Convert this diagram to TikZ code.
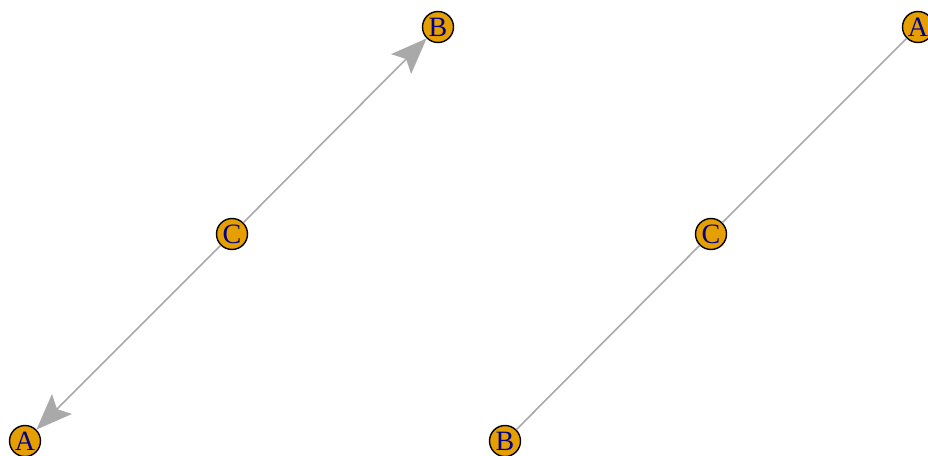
\documentclass[tikz,border=0pt]{standalone}
\usepackage{fontspec}
\setmainfont{Liberation Serif}
\usetikzlibrary{arrows.meta}
\definecolor{vfill}{HTML}{E69F00}
\definecolor{vtext}{HTML}{00008B}
\definecolor{edgec}{HTML}{A9A9A9}
\tikzset{
  vert/.style={circle, draw=black, line width=1.4pt, fill=vfill, text=vtext,
    minimum size=31pt, inner sep=0pt, font=\fontsize{28}{28}\selectfont},
  edge/.style={draw=edgec, line width=1.6pt},
  dedge/.style={edge, -{Stealth[length=36pt, width=28pt, inset=7pt]}}
}
\begin{document}
\begin{tikzpicture}[x=1pt,y=-1pt]
\useasboundingbox (0,0) rectangle (928,455);
\begin{scope}
\clip (0,0) rectangle (928,455);
% left graph
\node[vert] (lB) at (438,27) {B};
\node[vert] (lC) at (232,234) {C};
\node[vert] (lA) at (25,441) {A};
% right graph
\node[vert] (rA) at (918,27) {A};
\node[vert] (rC) at (711,234) {C};
\node[vert] (rB) at (505,441) {B};
\draw[dedge] (lC) -- (lB);
\draw[dedge] (lC) -- (lA);
\draw[edge] (rC) -- (rA);
\draw[edge] (rC) -- (rB);
\end{scope}
\end{tikzpicture}
\end{document}
